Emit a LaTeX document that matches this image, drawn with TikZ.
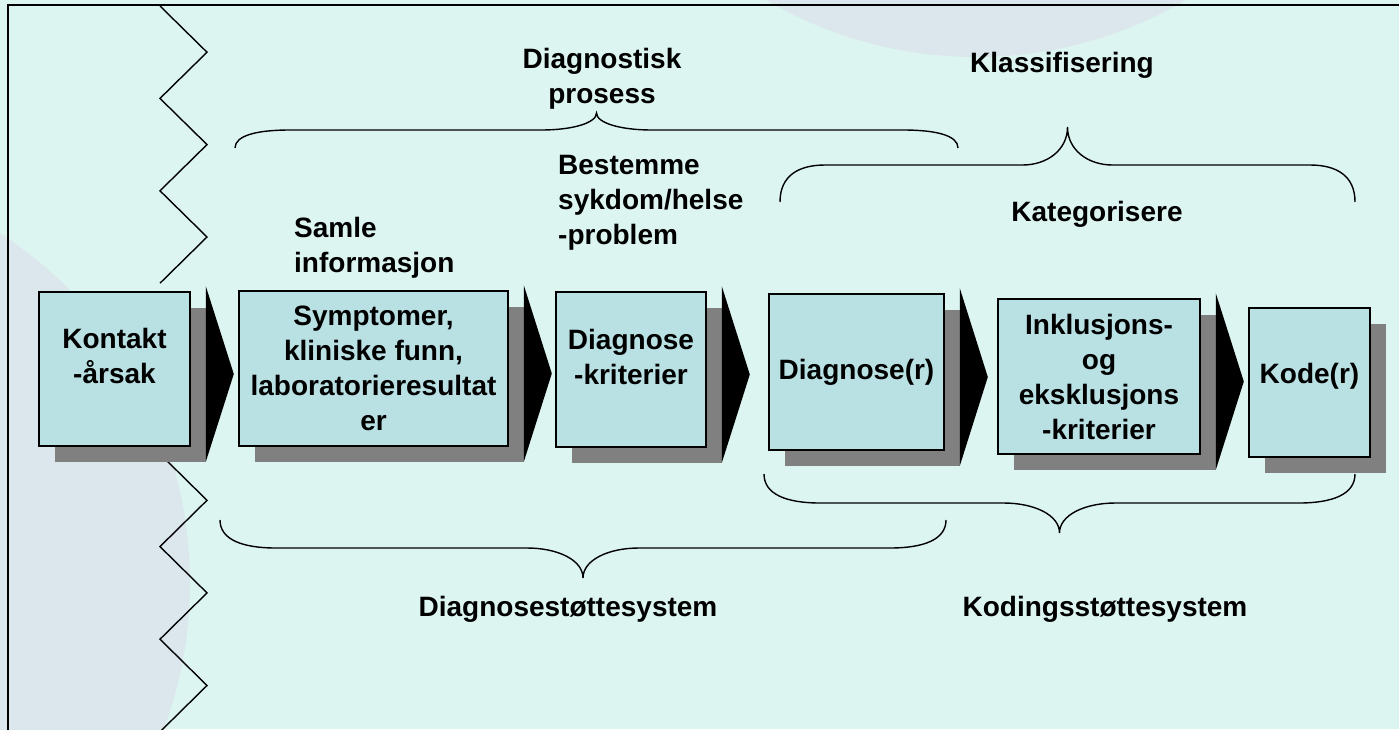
\documentclass[tikz,border=0pt]{standalone}
\usepackage{fontspec}
\setmainfont{Liberation Sans}
\usetikzlibrary{calc, shadows}
\definecolor{bgcyan}{RGB}{221,245,241}
\definecolor{circlegrey}{RGB}{219,231,236}
\definecolor{boxfill}{RGB}{185,224,227}
\definecolor{shadowgrey}{RGB}{128,128,128}
\newcommand{\labfont}{\fontsize{28}{35}\selectfont\bfseries}
\tikzset{%
  stepbox/.style={draw, line width=1.6pt, fill=boxfill, inner sep=0pt,
                  align=center, font=\labfont,
                  drop shadow={shadow xshift=16pt, shadow yshift=-16pt,
                               fill=shadowgrey, opacity=1}},
  heading/.style={font=\labfont, inner sep=0pt, align=center},
  chevron/.style={fill=black},
  bracket/.style={line width=1.4pt},
  zigzag/.style={line width=1.4pt},
}
% curly brace: left x, right x, line y, end drop, tip rise, curve width
\newcommand{\curlybrace}[6]{%
  \pgfmathsetmacro{\xm}{(#1+#2)/2}
  \draw[bracket] ({#1},{#3+(#4)}) .. controls ({#1},{#3+0.3*(#4)}) and ({#1+0.4*#6},{#3}) .. ({#1+#6},{#3})
    -- ({\xm-#6},{#3}) .. controls ({\xm-0.45*#6},{#3}) and ({\xm},{#3-0.4*(#5)}) .. ({\xm},{#3-(#5)})
    .. controls ({\xm},{#3-0.4*(#5)}) and ({\xm+0.45*#6},{#3}) .. ({\xm+#6},{#3})
    -- ({#2-#6},{#3}) .. controls ({#2-0.4*#6},{#3}) and ({#2},{#3+0.3*(#4)}) .. ({#2},{#3+(#4)});
}

\begin{document}
\begin{tikzpicture}[x=1pt, y=-1pt]

    \useasboundingbox (0,0) rectangle (1399,729);
    \begin{scope}
    \clip (0,0) rectangle (1399,729);

    % background and the two pale discs
    \fill[bgcyan] (0,0) rectangle (1399,729);
    \fill[circlegrey] (976,-358) circle (415pt);
    \fill[circlegrey] (-227,583) circle (417pt);

    % frame
    \draw[line width=2pt] (8,760) -- (8,5) -- (1420,5);

    % zigzag cut line
    \draw[zigzag] (160,6) \foreach \k in {1,...,6} { -- ({160+47*mod(\k,2)},{6+46.2*\k}) };
    \draw[zigzag] (160,454) \foreach \k in {1,...,6} { -- ({160+47*mod(\k,2)},{454+46.3*\k}) };

    % braces
    \curlybrace{235}{958}{130}{18}{17}{55}
    \curlybrace{780}{1355}{165}{37}{38}{45}
    \curlybrace{220}{946}{548}{-28}{-30}{56}
    \curlybrace{764}{1355}{503}{-29}{-30}{56}

    % labels
    \node[heading, anchor=north] (prosess) at (602,48) {Diagnostisk\\prosess};
    \node[heading, anchor=north] (klassifisering) at (1062,52) {Klassifisering};
    \node[heading, anchor=north west, align=left] (bestemme) at (558,155) {Bestemme\\sykdom/helse\\-problem};
    \node[heading, anchor=north west, align=left] (samle) at (294,217) {Samle\\informasjon};
    \node[heading, anchor=north] (kategorisere) at (1097,201) {Kategorisere};
    \node[heading, anchor=north] (diagstotte) at (568,596) {Diagnosestøttesystem};
    \node[heading, anchor=north] (kodstotte) at (1105,596) {Kodingsstøttesystem};

    % process steps
    \node[stepbox, minimum width=151pt, minimum height=154pt, text depth=26pt] (kontakt) at (114.5,369) {Kontakt\\-årsak};
    \node[stepbox, minimum width=269pt, minimum height=155pt] (symptom) at (373.5,368.5) {Symptomer,\\kliniske funn,\\laboratorieresultat\\er};
    \node[stepbox, minimum width=150pt, minimum height=155pt, text depth=26pt] (kriterier) at (631,369.5) {Diagnose\\-kriterier};
    \node[stepbox, minimum width=175pt, minimum height=156pt] (diagnoser) at (856.5,372) {Diagnose(r)};
    \node[stepbox, minimum width=202pt, minimum height=155pt] (inklusjon) at (1099,376.5) {Inklusjons-\\og\\eksklusjons\\-kriterier};
    \node[stepbox, minimum width=121pt, minimum height=149pt, text depth=18pt] (kode) at (1309.5,382.5) {Kode(r)};

    % chevrons between the steps
    \foreach \a in {kontakt, symptom, kriterier, diagnoser, inklusjon}
        \fill[chevron] ($(\a.north east)+(15,-5)$) -- ($(\a.east)+(43,5)$) -- ($(\a.south east)+(15,15)$) -- cycle;

    \end{scope}

\end{tikzpicture}
\end{document}
